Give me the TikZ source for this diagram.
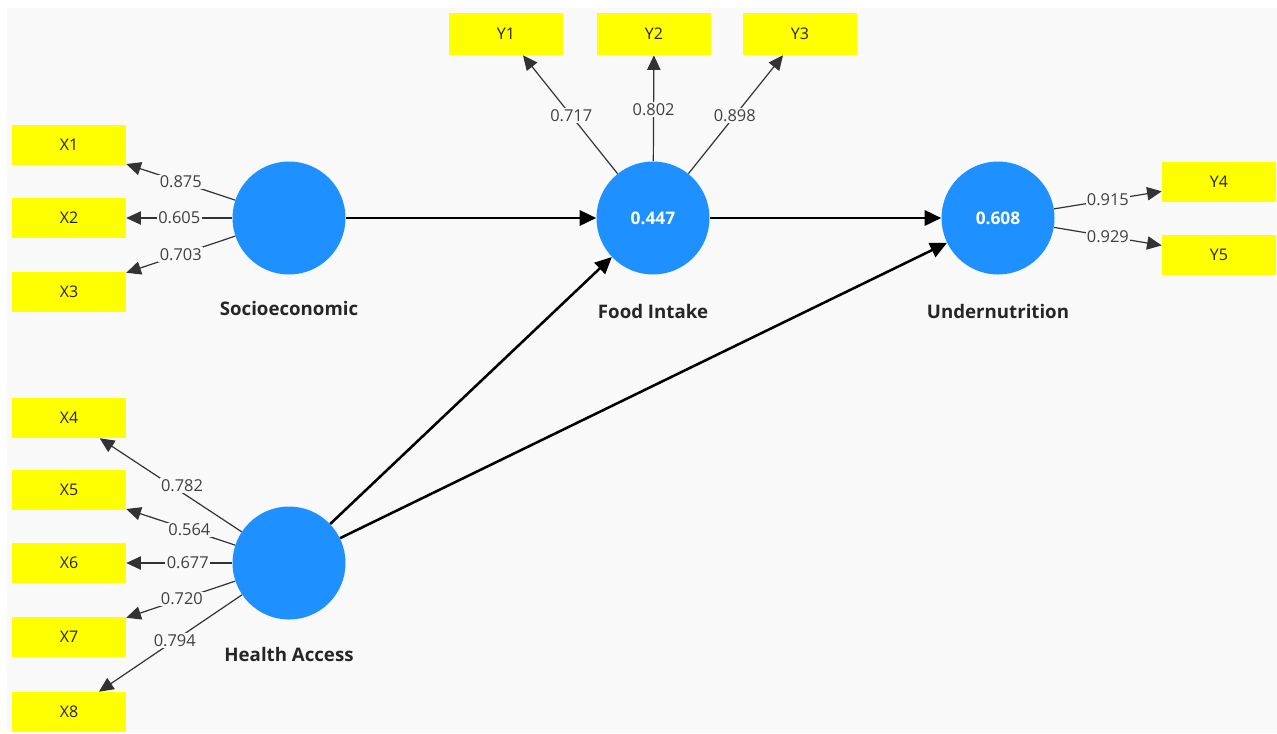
\documentclass[tikz,border=0pt]{standalone}
\usepackage{fontspec}
\setmainfont{Open Sans}
\usetikzlibrary{arrows.meta}
\definecolor{bg}{HTML}{F9F9F9}
\definecolor{lv}{HTML}{1E90FF}
\definecolor{ind}{HTML}{FFFF00}
\tikzset{
  ind/.style={fill=ind, draw=none, minimum width=114*0.75pt, minimum height=40*0.75pt, inner sep=0pt, font=\fontsize{12}{14}\selectfont, text=black!85},
  lv/.style={circle, fill=lv, draw=none, minimum size=113*0.75pt, inner sep=0pt, text=white, font=\bfseries\fontsize{13}{15}\selectfont},
  lvname/.style={font=\bfseries\fontsize{14}{16}\selectfont, text=black!85},
  load/.style={-{Triangle[length=11pt,width=10pt]}, line width=0.9pt, draw=black!80},
  path/.style={-{Triangle[length=12.5pt,width=11.5pt]}, line width=1.9pt, draw=black},
  lab/.style={fill=bg, inner sep=1pt, font=\fontsize{12.3}{14}\selectfont, text=black!75},
}
\begin{document}
\begin{tikzpicture}[x=0.75pt, y=-0.75pt]
\useasboundingbox (0,0) rectangle (1277,733);
\fill[white] (0,0) rectangle (1277,733);
\fill[bg] (7,8) rectangle (1277,733);
% indicators
\node[ind] (X1) at (69,145) {X1};
\node[ind] (X2) at (69,218) {X2};
\node[ind] (X3) at (69,292) {X3};
\node[ind] (X4) at (69,418) {X4};
\node[ind] (X5) at (69,490) {X5};
\node[ind] (X6) at (69,563) {X6};
\node[ind] (X7) at (69,637) {X7};
\node[ind] (X8) at (69,712) {X8};
\node[ind, minimum height=42*0.75pt] (Y1) at (506,34) {Y1};
\node[ind, minimum height=42*0.75pt] (Y2) at (654,34) {Y2};
\node[ind, minimum height=42*0.75pt] (Y3) at (800,34) {Y3};
\node[ind] (Y4) at (1219,182) {Y4};
\node[ind] (Y5) at (1219,255) {Y5};
% latent variables
\node[lv] (SE) at (289,218) {};
\node[lv] (HA) at (289,563) {};
\node[lv] (FI) at (653,218) {0.447};
\node[lv] (UN) at (998,218) {0.608};
\node[lvname] (SEn) at (289,308) {Socioeconomic};
\node[lvname] (HAn) at (289,654) {Health Access};
\node[lvname] (FIn) at (653,311) {Food Intake};
\node[lvname] (UNn) at (998,311) {Undernutrition};
% structural paths
\draw[path] (SE) -- (FI);
\draw[path] (HA) -- (FI);
\draw[path] (HA) -- (UN);
\draw[path] (FI) -- (UN);
% outer loadings
\draw[load] (SE) -- node[lab, pos=0.5] {0.875} (X1);
\draw[load] (SE) -- node[lab, pos=0.5] {0.605} (X2);
\draw[load] (SE) -- node[lab, pos=0.5] {0.703} (X3);
\draw[load] (HA) -- node[lab, pos=0.42, yshift=5pt] {0.782} (X4);
\draw[load] (HA) -- node[lab, pos=0.42] {0.564} (X5);
\draw[load] (HA) -- node[lab, pos=0.42] {0.677} (X6);
\draw[load] (HA) -- node[lab, pos=0.49] {0.720} (X7);
\draw[load] (HA) -- node[lab, pos=0.47] {0.794} (X8);
\draw[load] (FI) -- node[lab, pos=0.49] {0.717} (Y1);
\draw[load] (FI) -- node[lab, pos=0.49] {0.802} (Y2);
\draw[load] (FI) -- node[lab, pos=0.49] {0.898} (Y3);
\draw[load] (UN) -- node[lab, pos=0.5] {0.915} (Y4);
\draw[load] (UN) -- node[lab, pos=0.5] {0.929} (Y5);
\end{tikzpicture}
\end{document}
